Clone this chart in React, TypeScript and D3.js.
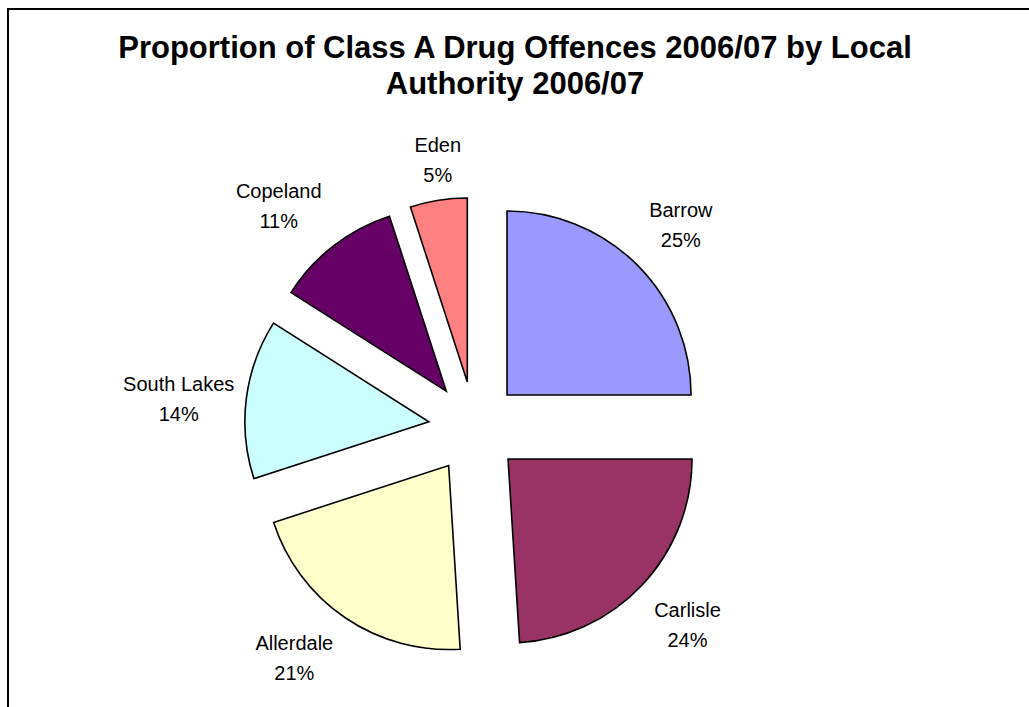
import React from "react";
import * as d3 from "d3";

const categories = ["Barrow", "Carlisle", "Allerdale", "South Lakes", "Copeland", "Eden"];
const values = [25, 24, 21, 14, 11, 5];
const colors = ["#9999FF", "#993366", "#FFFFCC", "#CCFFFF", "#660066", "#FF8080"];
const titleLines = ["Proportion of Class A Drug Offences 2006/07 by Local", "Authority 2006/07"];

const W = 1029;
const H = 707;
const CX = 474.5;
const CY = 427.5;
const R = 184;
const EXPLODE = 46;
const LABEL_FONT = 20;
const LINE_GAP = 30;
const LABEL_GAP_X = 12;
const LABEL_HALF_H = 40;
const FONT = "'Liberation Sans', Arial, Helvetica, sans-serif";

function textWidth(t: string, size: number, weight = "normal"): number {
  if (typeof document === "undefined") return t.length * size * 0.55;
  const c = document.createElement("canvas");
  const ctx = c.getContext("2d");
  if (!ctx) return t.length * size * 0.55;
  ctx.font = `${weight} ${size}px ${FONT}`;
  return ctx.measureText(t).width;
}

function side(s: number): number {
  const m = Math.min(1, Math.max(0, (Math.abs(s) - 0.15) / 0.3));
  return Math.sign(s) * m;
}

export default function App() {
  const total = d3.sum(values);
  const pie = d3
    .pie<number>()
    .sort(null)
    .value((d) => d)
    .startAngle(0)
    .endAngle(2 * Math.PI);
  const arcs = pie(values);
  const arc = d3.arc<d3.PieArcDatum<number>>().innerRadius(0).outerRadius(R);

  return (
    <svg
      width={W}
      height={H}
      style={{ position: "absolute", left: 0, top: 0, display: "block", background: "#fff" }}
    >
      <rect x={0} y={0} width={W} height={H} fill="#fff" />
      <rect x={8} y={9} width={W + 20} height={H + 20} fill="none" stroke="#000" strokeWidth={2} />
      {titleLines.map((t, i) => (
        <text
          key={i}
          x={515}
          y={58 + i * 36}
          textAnchor="middle"
          fontFamily={FONT}
          fontWeight="bold"
          fontSize={31}
          fill="#000"
        >
          {t}
        </text>
      ))}
      {arcs.map((a, i) => {
        const mid = (a.startAngle + a.endAngle) / 2;
        const ox = Math.sin(mid) * EXPLODE;
        const oy = -Math.cos(mid) * EXPLODE;
        return (
          <path
            key={categories[i]}
            d={arc(a) || ""}
            transform={`translate(${CX + ox},${CY + oy})`}
            fill={colors[i]}
            stroke="#000"
            strokeWidth={1.6}
            strokeLinejoin="miter"
          />
        );
      })}
      {arcs.map((a, i) => {
        const mid = (a.startAngle + a.endAngle) / 2;
        const pct = `${Math.round((values[i] / total) * 100)}%`;
        const w = Math.max(textWidth(categories[i], LABEL_FONT), textWidth(pct, LABEL_FONT));
        const s = Math.sin(mid);
        const c = -Math.cos(mid);
        const ax = CX + s * (R + EXPLODE);
        const ay = CY + c * (R + EXPLODE);
        const lx = ax + side(s) * (w / 2 + LABEL_GAP_X);
        const ly = ay + side(c) * LABEL_HALF_H;
        return (
          <g key={"l" + i} fontFamily={FONT} fontSize={LABEL_FONT} fill="#000" textAnchor="middle">
            <text x={lx} y={ly - 8}>{categories[i]}</text>
            <text x={lx} y={ly - 8 + LINE_GAP}>{pct}</text>
          </g>
        );
      })}
    </svg>
  );
}
